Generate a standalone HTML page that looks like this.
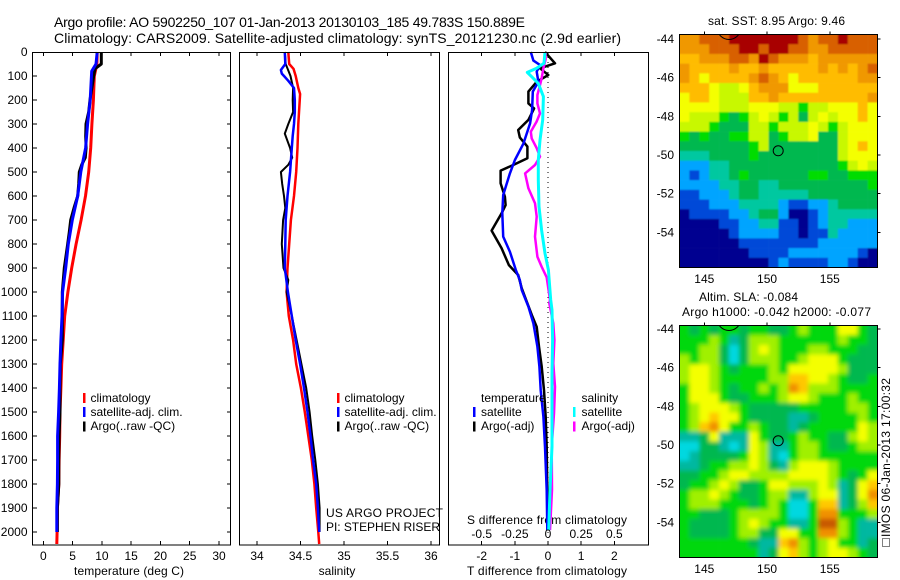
<!DOCTYPE html>
<html>
<head>
<meta charset="utf-8">
<title>Argo profile</title>
<style>
html,body{margin:0;padding:0;background:#fff;}
svg{display:block;}
text{font-family:"Liberation Sans",sans-serif;font-size:12px;fill:#000;}
</style>
</head>
<body>
<svg id="chart" xmlns="http://www.w3.org/2000/svg" width="900" height="580" viewBox="0 0 900 580">
<defs>
<filter id="blur-sst" filterUnits="userSpaceOnUse" x="640" y="0" width="260" height="300"><feGaussianBlur stdDeviation="0.8"/></filter>
<filter id="blur-sla" filterUnits="userSpaceOnUse" x="640" y="290" width="260" height="290"><feGaussianBlur stdDeviation="2"/></filter>
</defs>
<text x="54" y="27" style="font-size:14px" textLength="471">Argo profile: AO 5902250_107 01-Jan-2013 20130103_185 49.783S 150.889E</text>
<text x="54" y="43" style="font-size:14px" textLength="567">Climatology: CARS2009. Satellite-adjusted climatology: synTS_20121230.nc (2.9d earlier)</text>
<text x="129" y="575" text-anchor="middle" textLength="110">temperature (deg C)</text>
<text x="337" y="575" text-anchor="middle">salinity</text>
<text x="467" y="575" textLength="160">T difference from climatology</text>
<text x="467" y="524" textLength="160">S difference from climatology</text>
<text x="708" y="25" textLength="137">sat. SST: 8.95 Argo: 9.46</text>
<text x="699" y="301" textLength="99">Altim. SLA: -0.084</text>
<text x="682" y="316" textLength="189">Argo h1000: -0.042 h2000: -0.077</text>
<rect x="882.5" y="538.5" width="7" height="8" fill="none" stroke="#000" stroke-width="1" stroke-dasharray="1 1" shape-rendering="crispEdges"/>
<text transform="translate(890,537) rotate(-90)" textLength="159">IMOS 06-Jan-2013 17:00:32</text>
<text x="326" y="517" textLength="117">US ARGO PROJECT</text>
<text x="326" y="531" textLength="114">PI: STEPHEN RISER</text>
</svg>
<script>
// Shared climatology depth levels (m)
var profileDepths = [0,50,100,200,300,400,500,600,700,800,900,1000,1100,1200,1300,1400,1500,1600,1700,1800,1900,2000,2050];
var depthTicks = [0,100,200,300,400,500,600,700,800,900,1000,1100,1200,1300,1400,1500,1600,1700,1800,1900,2000];

// Temperature panel
var tempTicks = [0,5,10,15,20,25,30];
var tempClim = [9.2,9.15,8.7,8.55,8.3,8.1,7.75,7.2,6.45,5.6,4.85,4.2,3.65,3.4,3.15,3.0,2.85,2.8,2.7,2.65,2.4,2.35,2.3];
var tempSatDepths = [0,50,80,200,300,400,500,600,700,800,900,1000,1100,1200,1300,1400,1500,1600,1700,1800,1900,2000];
var tempSat = [9.2,9.0,8.26,8.0,7.57,7.23,6.4,5.87,4.95,4.27,3.82,3.3,3.2,3.0,2.85,2.75,2.62,2.45,2.45,2.4,2.3,2.3];
var tempArgoDepths = [0,50,70,100,200,250,300,350,400,440,470,500,550,600,650,700,750,800,850,900,1000,1100,1200,1300,1400,1500,1600,1700,1800,1900,2000];
var tempArgo = [9.9,9.9,8.83,8.6,7.97,7.75,7.29,7.24,7.3,7.17,6.55,6.15,6.04,5.87,5.24,4.68,4.44,4.17,3.88,3.59,3.25,3.25,3.25,2.9,2.85,2.85,2.7,2.65,2.65,2.4,2.4];

// Salinity panel
var salTicks = [34,34.5,35,35.5,36];
var salTickLabels = ["34","34.5","35","35.5","36"];
var salClimDepths = [0,50,70,100,150,175,300,400,500,600,700,800,900,1000,1100,1200,1300,1400,1500,1600,1700,1800,1900,2000,2050];
var salClim = [34.36,34.37,34.42,34.445,34.475,34.495,34.475,34.465,34.45,34.425,34.39,34.37,34.35,34.34,34.365,34.415,34.45,34.505,34.55,34.59,34.63,34.66,34.68,34.705,34.715];
var salSatDepths = [0,50,75,90,100,120,150,200,250,300,350,400,500,600,700,800,900,1000,1100,1200,1300,1400,1500,1600,1700,1800,1900,2000];
var salSat = [34.32,34.325,34.275,34.285,34.31,34.36,34.425,34.435,34.435,34.425,34.41,34.4,34.38,34.35,34.33,34.325,34.32,34.355,34.4,34.445,34.495,34.54,34.58,34.615,34.645,34.68,34.70,34.715];
var salArgoDepths = [0,50,100,150,200,250,300,340,380,400,440,470,500,550,600,650,700,800,900,950,1000,1100,1200,1300,1400,1500,1600,1700,1800,1900,2000];
var salArgo = [34.32,34.33,34.385,34.415,34.41,34.415,34.36,34.32,34.36,34.38,34.405,34.36,34.275,34.29,34.31,34.325,34.3,34.285,34.305,34.36,34.34,34.4,34.455,34.51,34.565,34.605,34.635,34.67,34.70,34.72,34.72];

// Difference panel
var diffTTicks = [-2,-1,0,1,2];
var diffSTicks = [-0.5,-0.25,0,0.25,0.5];
var diffSTickLabels = ["-0.5","-0.25","0","0.25","0.5"];
var dTArgoDepths = [0,47,68,96,124,165,214,235,283,325,356,394,443,471,494,547,603,638,672,744,818,888,929,985,1047,1096,1145,1228,1311,1409,1520,1645,1825,1992];
var dTArgo = [-0.09,0.21,-0.24,0.01,-0.34,-0.59,-0.59,-0.42,-0.59,-0.9,-0.85,-0.62,-0.62,-1.05,-1.43,-1.43,-1.3,-1.28,-1.4,-1.7,-1.4,-1.18,-0.9,-0.79,-0.62,-0.49,-0.34,-0.27,-0.19,-0.12,-0.07,-0.04,-0.02,-0.02];
var dTSatDepths = [0,36,54,82,124,165,242,297,381,450,506,596,672,769,832,908,950,992,1061,1131,1228,1311,1409,1520,1645,1825,1992];
var dTSat = [-0.52,-0.44,-0.24,-0.34,-0.29,-0.46,-0.48,-0.54,-0.74,-1.0,-1.15,-1.35,-1.38,-1.35,-1.15,-0.97,-0.85,-0.79,-0.59,-0.44,-0.32,-0.26,-0.22,-0.14,-0.09,-0.04,-0.02];
var dSSatDepths = [0,47,68,85,103,131,186,283,367,450,533,644,742,839,908,1033,1075,1200,1339,1478,1645,1825,1992];
var dSSat = [-0.023,-0.03,-0.086,-0.156,-0.123,-0.073,-0.035,-0.04,-0.06,-0.073,-0.073,-0.068,-0.048,-0.023,0.003,0.02,0.03,0.035,0.03,0.03,0.03,0.015,0.005];
var dSArgoDepths = [0,31,68,110,138,179,214,256,290,332,360,401,436,471,506,568,630,686,769,853,894,939,1033,1047,1131,1200,1297,1395,1506,1645,1825,1992];
var dSArgo = [-0.018,-0.018,-0.035,-0.048,-0.06,-0.08,-0.08,-0.06,-0.086,-0.13,-0.123,-0.085,-0.06,-0.098,-0.173,-0.148,-0.098,-0.085,-0.098,-0.08,-0.048,-0.01,0.015,0.01,0.04,0.048,0.04,0.053,0.045,0.028,0.03,0.015];

// Map axes
var lonTicks = [145,150,155];
var latTicks = [-44,-46,-48,-50,-52,-54];
var floatLon = [150.889];
var floatLat = [-49.783];

// SST map, colour level per cell (0 = coldest, 11 = warmest), north to south
var sstRow00 = [9,9,10,10,10,11,11,11,11,11,11,11,10,9,10,10,11,10,10,10];
var sstRow01 = [9,9,9,10,10,10,11,11,10,11,11,10,10,9,9,10,10,10,10,10];
var sstRow02 = [8,8,9,9,9,10,10,9,11,10,9,9,9,8,9,9,9,9,9,9];
var sstRow03 = [9,8,8,8,8,9,8,8,9,8,8,8,8,8,9,8,9,8,9,10];
var sstRow04 = [9,8,7,8,8,8,8,9,10,9,8,7,8,8,8,8,8,8,9,9];
var sstRow05 = [8,8,8,7,6,6,7,8,9,9,9,7,7,7,8,8,8,8,8,8];
var sstRow06 = [7,8,8,7,6,6,6,8,8,9,8,8,8,8,8,8,8,8,8,9];
var sstRow07 = [7,7,7,7,6,6,6,7,7,7,6,6,5,6,6,7,7,7,8,7];
var sstRow08 = [7,6,6,6,5,4,5,6,7,6,5,6,4,6,7,6,7,7,8,7];
var sstRow09 = [6,6,6,5,4,4,4,6,6,5,6,6,6,7,6,5,6,7,7,7];
var sstRow10 = [5,4,5,4,4,5,5,6,6,4,5,6,6,7,4,4,6,7,7,7];
var sstRow11 = [4,4,4,4,4,4,4,5,6,4,4,4,4,4,4,4,6,7,8,7];
var sstRow12 = [3,3,3,4,4,4,4,5,4,4,4,4,4,4,4,4,6,7,7,7];
var sstRow13 = [2,2,2,3,3,4,4,4,4,4,4,4,4,4,4,4,5,6,7,6];
var sstRow14 = [2,1,2,3,3,4,5,4,4,4,4,4,4,5,5,4,4,5,5,5];
var sstRow15 = [2,2,2,2,3,3,4,4,3,3,4,4,4,4,4,4,4,4,4,5];
var sstRow16 = [1,1,2,2,2,3,4,4,3,3,3,3,3,4,4,4,4,4,4,4];
var sstRow17 = [1,1,1,2,2,2,3,3,3,3,2,1,1,2,2,3,4,4,4,4];
var sstRow18 = [0,1,1,1,1,2,2,3,4,4,2,0,0,1,2,3,3,3,3,3];
var sstRow19 = [0,0,0,0,1,1,2,2,3,3,1,1,0,1,2,3,3,2,2,2];
var sstRow20 = [0,0,0,0,0,1,2,2,2,2,1,1,0,1,1,3,2,2,2,2];
var sstRow21 = [0,0,0,0,0,0,1,1,1,1,1,1,1,1,2,2,2,2,2,2];
var sstRow22 = [0,0,0,0,0,0,0,1,1,1,1,2,2,2,2,2,2,2,1,0];
var sstRow23 = [0,0,0,0,0,0,0,0,0,1,2,1,1,1,1,2,2,1,0,0];
var sstRows = [sstRow00,sstRow01,sstRow02,sstRow03,sstRow04,sstRow05,sstRow06,sstRow07,sstRow08,sstRow09,sstRow10,sstRow11,sstRow12,sstRow13,sstRow14,sstRow15,sstRow16,sstRow17,sstRow18,sstRow19,sstRow20,sstRow21,sstRow22,sstRow23];

// SLA map, colour level per cell, north to south
var slaRow00 = [5,4,5,4,5,5,4,5,5,4,4,5,6,5,5,5,7,7,5,4];
var slaRow01 = [5,5,5,6,5,3,4,6,6,6,5,5,5,5,5,5,6,5,5,4];
var slaRow02 = [5,5,6,6,4,2,4,6,7,6,5,5,5,6,6,5,5,5,4,4];
var slaRow03 = [6,5,6,6,4,2,4,6,6,6,5,5,6,7,7,7,5,4,4,4];
var slaRow04 = [6,7,7,6,5,4,5,5,5,6,5,7,7,7,7,7,6,4,4,4];
var slaRow05 = [6,7,7,6,5,5,5,5,5,6,6,8,8,7,7,6,5,4,4,5];
var slaRow06 = [5,7,7,6,5,4,5,5,6,5,6,9,8,6,6,6,5,5,5,5];
var slaRow07 = [5,7,7,7,5,4,4,5,5,5,6,7,7,6,5,5,5,6,5,5];
var slaRow08 = [5,6,7,7,7,6,5,4,4,4,4,4,5,5,5,5,5,6,6,5];
var slaRow09 = [5,6,7,8,7,7,5,4,4,4,4,3,3,4,5,5,5,5,6,5];
var slaRow10 = [5,6,8,9,7,5,5,6,5,4,4,3,4,5,5,5,5,5,7,6];
var slaRow11 = [3,3,4,7,3,3,3,7,5,4,4,5,6,5,5,4,4,6,7,6];
var slaRow12 = [2,2,4,4,3,2,3,7,6,3,3,5,6,6,5,4,4,5,6,6];
var slaRow13 = [2,3,4,4,4,4,5,7,6,3,2,5,6,6,5,5,5,5,5,5];
var slaRow14 = [3,3,4,5,5,6,6,7,6,4,3,6,7,7,7,6,5,5,5,5];
var slaRow15 = [4,4,5,5,6,7,7,6,6,6,6,7,7,7,7,6,5,4,5,7];
var slaRow16 = [4,5,5,6,7,6,4,4,5,7,7,6,6,6,7,6,3,4,7,8];
var slaRow17 = [5,6,6,7,6,5,4,4,5,6,6,3,3,6,7,7,3,4,7,9];
var slaRow18 = [5,6,6,6,5,5,5,4,5,6,5,2,2,5,8,8,3,4,6,8];
var slaRow19 = [5,5,4,4,4,5,6,6,6,6,5,2,2,5,9,9,5,5,5,6];
var slaRow20 = [5,4,4,4,4,5,6,7,6,5,5,3,3,5,10,10,6,5,3,3];
var slaRow21 = [5,4,4,4,4,5,6,6,4,4,7,7,5,5,9,9,6,5,3,3];
var slaRow22 = [5,5,5,5,5,5,5,4,3,3,8,9,6,5,6,7,5,5,3,4];
var slaRow23 = [5,5,5,5,5,5,5,5,3,4,7,8,6,5,6,7,7,6,5,4];
var slaRows = [slaRow00,slaRow01,slaRow02,slaRow03,slaRow04,slaRow05,slaRow06,slaRow07,slaRow08,slaRow09,slaRow10,slaRow11,slaRow12,slaRow13,slaRow14,slaRow15,slaRow16,slaRow17,slaRow18,slaRow19,slaRow20,slaRow21,slaRow22,slaRow23];

var NS = "http://www.w3.org/2000/svg";
var svg = document.getElementById("chart");
var sstColors = ["#000090","#0048d8","#00a4ff","#00c8a0","#00b850","#00dc00","#c8f800","#f4ff00","#ffbc00","#f09800","#d86000","#a80000"];
var slaColors = ["#000090","#0048d8","#00d8e0","#00b8a0","#00b850","#00d810","#a0f000","#f4ff00","#ffc800","#f09000","#c85800","#a80000"];

function yDepth(d){ return 52 + d * 0.24; }
function xTemp(v){ return 43.3 + v * 5.857; }
function xSal(v){ return 257 + (v - 34) * 87; }
function xDiffT(v){ return 548 + v * 33.15; }
function xDiffS(v){ return 548 + v * 4 * 33.15; }
function xLon(v){ return 704.3 + (v - 145) * 12.55; }
function yLat1(v){ return 39 + (-44 - v) * 19.33; }
function yLat2(v){ return 329 + (-44 - v) * 19.33; }

function make(tag, attrs, parent, txt){
  var e = document.createElementNS(NS, tag);
  for (var k in attrs) e.setAttribute(k, attrs[k]);
  if (txt !== undefined) e.textContent = txt;
  (parent || svg).appendChild(e);
  return e;
}

function tickLine(x1, y1, x2, y2){
  var t = make("line", {x1:x1, y1:y1, x2:x2, y2:y2, stroke:"#000", "stroke-width":1, "shape-rendering":"crispEdges"});
  
  
}

function label(x, y, anchor, str){
  var t = make("text", {x:x, y:y, "text-anchor":anchor}, svg, str);
  
  
}

function frame(x, y, w, h){
  var r = make("rect", {x:x, y:y, width:w, height:h, fill:"none", stroke:"#000", "stroke-width":1, "shape-rendering":"crispEdges"});
  
  
}

function series(xs, ds, xf, color, width, name){
  var pts = [];
  for (var i = 0; i < xs.length; i++) pts.push(xf(xs[i]).toFixed(1) + "," + yDepth(ds[i]).toFixed(1));
  var p = make("polyline", {points:pts.join(" "), fill:"none", stroke:color, "stroke-width":width, "stroke-linejoin":"round"});
  
  
}

function swatch(x, y, color){
  var r = make("rect", {x:x, y:y, width:2.5, height:10, fill:color, "shape-rendering":"crispEdges"});
  
  
}

function legendText(x, y, str){
  var t = make("text", {x:x, y:y}, svg, str);
  
  
}

function xTicks(ticks, labels, xf, labelY){
  for (var i = 0; i < ticks.length; i++){
    var x = xf(ticks[i]);
    tickLine(x, 52, x, 56);
    tickLine(x, 541, x, 545);
    label(x, labelY, "middle", labels[i]);
  }
}

/* Temperature panel */
series(tempClim, profileDepths, xTemp, "#ff0000", 3, "temperature-climatology-line");
series(tempArgo, tempArgoDepths, xTemp, "#000000", 3, "temperature-argo-line");
series(tempSat, tempSatDepths, xTemp, "#0000ff", 3, "temperature-satellite-line");
frame(32.5, 52.5, 198, 492.5);
xTicks(tempTicks, tempTicks.map(String), xTemp, 560);
depthTicks.forEach(function(d){
  var y = yDepth(d);
  if (d > 0){ tickLine(33, y, 37, y); tickLine(227, y, 231, y); }
  label(27.5, y + 4, "end", String(d));
});
swatch(83, 393, "#ff0000"); swatch(83, 407, "#0000ff"); swatch(83, 421.5, "#000000");
legendText(90.5, 402, "climatology");
legendText(90.5, 416, "satellite-adj. clim.");
legendText(90.5, 430, "Argo(..raw -QC)");

/* Salinity panel */
series(salClim, salClimDepths, xSal, "#ff0000", 2.5, "salinity-climatology-line");
series(salArgo, salArgoDepths, xSal, "#000000", 2, "salinity-argo-line");
series(salSat, salSatDepths, xSal, "#0000ff", 2.5, "salinity-satellite-line");
frame(239.5, 52.5, 200, 492.5);
xTicks(salTicks, salTickLabels, xSal, 560);
swatch(337, 393, "#ff0000"); swatch(337, 407, "#0000ff"); swatch(337, 421.5, "#000000");
legendText(344.5, 402, "climatology");
legendText(344.5, 416, "satellite-adj. clim.");
legendText(344.5, 430, "Argo(..raw -QC)");

/* Difference panel */
var zero = make("line", {x1:xDiffT(0), y1:52, x2:xDiffT(0), y2:545, stroke:"#000", "stroke-width":1, "stroke-dasharray":"1 4", "shape-rendering":"crispEdges"});


series(dTArgo, dTArgoDepths, xDiffT, "#000000", 2.5, "t-difference-argo-line");
series(dTSat, dTSatDepths, xDiffT, "#0000ff", 2.5, "t-difference-satellite-line");
series(dSArgo, dSArgoDepths, xDiffS, "#ff00ff", 2.5, "s-difference-argo-line");
series(dSSat, dSSatDepths, xDiffS, "#00ffff", 3, "s-difference-satellite-line");
frame(448.5, 52.5, 200, 492.5);
xTicks(diffTTicks, diffTTicks.map(String), xDiffT, 560);
diffSTicks.forEach(function(v, i){ label(xDiffS(v), 538, "middle", diffSTickLabels[i]); });
swatch(473, 407, "#0000ff"); swatch(473, 421.5, "#000000");
swatch(573, 407, "#00ffff"); swatch(573, 421.5, "#ff00ff");
legendText(481, 402, "temperature");
legendText(481, 416, "satellite");
legendText(481, 430, "Argo(-adj)");
legendText(581.5, 402, "salinity");
legendText(581.5, 416, "satellite");
legendText(581.5, 430, "Argo(-adj)");

/* Maps */
function heatmap(rows, palette, x0, y0, w, h, yLat, labelY, clipId, filterId){
  var nr = rows.length;
  var cp = make("clipPath", {id:clipId});
  make("rect", {x:x0, y:y0, width:w, height:h}, cp);
  var clipGroup = make("g", {"clip-path":"url(#" + clipId + ")"});
  
  
  var cells = make("g", {filter:"url(#" + filterId + ")"}, clipGroup);
  
  
  var pad = 14;
  rows.forEach(function(row, r){
    var nc = row.length;
    row.forEach(function(level, c){
      var cx0 = x0 + c * w / nc, cx1 = x0 + (c + 1) * w / nc;
      var cy0 = y0 + r * h / nr, cy1 = y0 + (r + 1) * h / nr;
      if (c === 0) cx0 -= pad;
      if (c === nc - 1) cx1 += pad;
      if (r === 0) cy0 -= pad;
      if (r === nr - 1) cy1 += pad;
      var cell = make("rect", {x:cx0.toFixed(2), y:cy0.toFixed(2), width:(cx1 - cx0 + 0.3).toFixed(2), height:(cy1 - cy0 + 0.3).toFixed(2), fill:palette[Math.max(0, Math.min(11, Math.round(level)))]}, cells);
      
      
    });
  });
  var arc = make("ellipse", {cx:729, cy:y0 - 6, rx:11.5, ry:11, fill:"none", stroke:"#000", "stroke-width":1}, clipGroup);
  
  
  var m = make("circle", {cx:xLon(floatLon[0]), cy:yLat(floatLat[0]), r:5, fill:"none", stroke:"#000", "stroke-width":1});
  
  
  frame(x0, y0, w, h);
  lonTicks.forEach(function(v){
    var x = xLon(v);
    tickLine(x, y0 - 3, x, y0);
    label(x, labelY, "middle", String(v));
  });
  latTicks.forEach(function(v){
    var y = yLat(v);
    tickLine(x0 + w, y, x0 + w + 3, y);
    label(674, y + 4, "end", String(v));
  });
}
heatmap(sstRows, sstColors, 679.5, 34.5, 198, 233, yLat1, 283, "clip-sst", "blur-sst");
heatmap(slaRows, slaColors, 679.5, 325.5, 198, 232, yLat2, 573, "clip-sla", "blur-sla");
</script>
</body>
</html>
